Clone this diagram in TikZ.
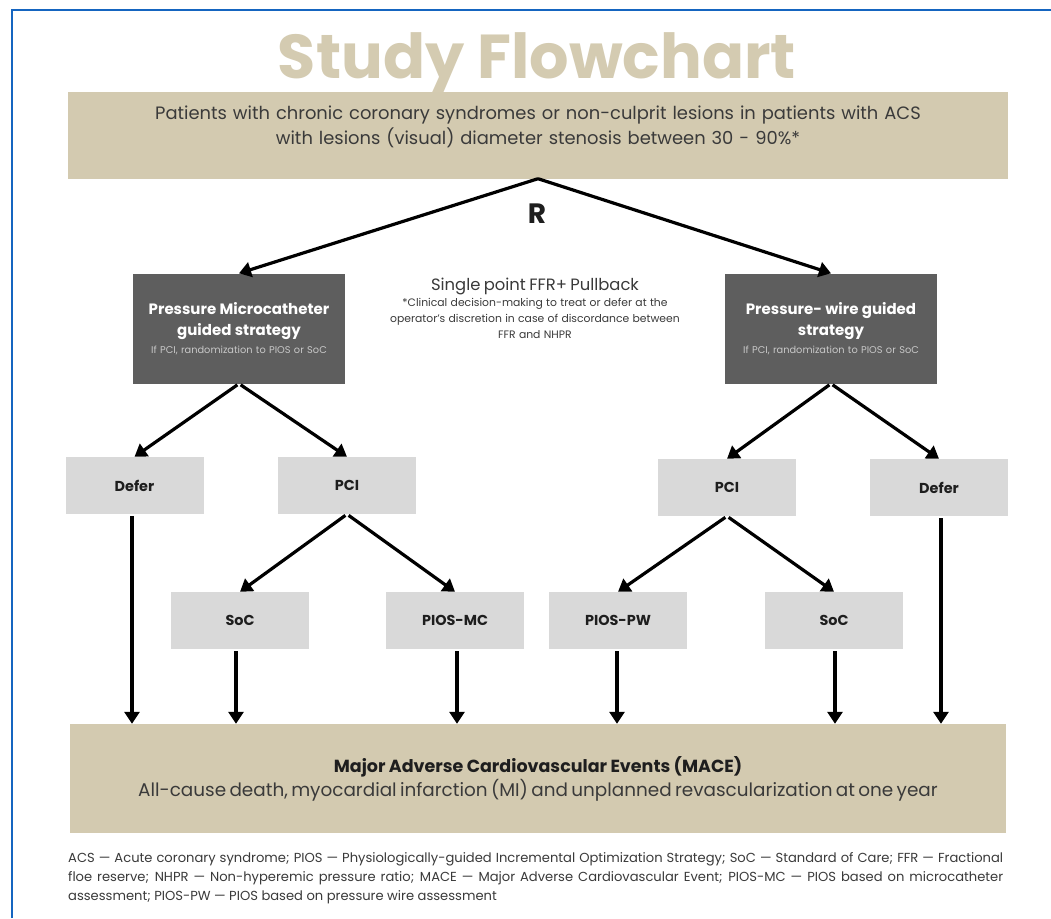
\documentclass[tikz,border=0pt]{standalone}
\usepackage{fontspec}
\setmainfont{Poppins}
\usetikzlibrary{arrows.meta}
\definecolor{sand}{HTML}{D3CAB0}
\definecolor{sandtitle}{HTML}{D4CBB1}
\definecolor{slate}{HTML}{5E5E5E}
\definecolor{fog}{HTML}{D9D9D9}
\definecolor{ink}{HTML}{1E1E1E}
\definecolor{softink}{HTML}{3A3A3A}
\definecolor{frameblue}{HTML}{1565C0}
\definecolor{paleink}{HTML}{C8C8C8}
\tikzset{
  choice/.style={fill=fog, minimum width=138pt, minimum height=57pt, inner sep=0pt,
    font=\bfseries\fontsize{14.4}{16}\selectfont, text=ink},
  strategy/.style={fill=slate, minimum width=212pt, minimum height=110pt, inner sep=0pt,
    text width=208pt, align=center, text=white},
  band/.style={fill=sand, inner sep=0pt},
  link/.style={line width=3.2pt, draw=black, -{Triangle[length=12pt,width=15pt]}},
}
\begin{document}
\begin{tikzpicture}[x=1pt,y=-1pt]
\useasboundingbox (0,0) rectangle (1051,918);
\fill[white] (0,0) rectangle (1051,918);
% page frame
\draw[frameblue, line width=2pt] (12,918) -- (12,10) -- (1051,10);

% title
\node[anchor=base, inner sep=0pt, text=sandtitle, font=\bfseries\fontsize{62}{66}\selectfont] (title) at (537,78) {Study Flowchart};

% population band
\node[band, minimum width=940pt, minimum height=87pt] (pop) at (538,135) {};
\node[text width=930pt, align=center, text=softink, inner sep=0pt,
      font=\fontsize{17.9}{25}\selectfont] (poptext) at (538,127)
  {Patients with chronic coronary syndromes or non-culprit lesions in patients with ACS\\
   with lesions (visual) diameter stenosis between 30 - 90\%*};

\node[font=\bfseries\fontsize{28}{30}\selectfont, text=ink] (rand) at (537,214) {R};

% strategies
\node[strategy] (mc) at (239,328.5)
  {{\bfseries\fontsize{15}{21}\selectfont Pressure Microcatheter\\guided strategy\par}
   \vspace{6pt}
   {\color{paleink}\fontsize{9.8}{11}\selectfont If PCI, randomization to PIOS or SoC\par}};
\node[strategy] (pw) at (831,328.5)
  {{\bfseries\fontsize{15}{21}\selectfont Pressure- wire guided\\strategy\par}
   \vspace{6pt}
   {\color{paleink}\fontsize{9.8}{11}\selectfont If PCI, randomization to PIOS or SoC\par}};

\node[text width=340pt, align=center, text=softink, inner sep=0pt] (note) at (535,308)
  {{\fontsize{16.4}{18}\selectfont Single point FFR+ Pullback\par}
   {\fontsize{10.8}{16}\selectfont *Clinical decision-making to treat or defer at the\\
   operator's discretion in case of discordance between\\FFR and NHPR\par}};

% second level
\node[choice] (deferl) at (134.5,485.5) {Defer};
\node[choice] (pcil) at (347,485.5) {PCI};
\node[choice] (pcir) at (727,487.5) {PCI};
\node[choice] (deferr) at (939,487.5) {Defer};

% third level
\node[choice] (socl) at (240,620.5) {SoC};
\node[choice] (piosmc) at (455,620.5) {PIOS-MC};
\node[choice] (piospw) at (618,620.5) {PIOS-PW};
\node[choice] (socr) at (834,620.5) {SoC};

% outcome band
\node[band, minimum width=936pt, minimum height=109pt, text width=930pt, align=center, text=ink] (mace) at (538,778.5)
  {{\bfseries\fontsize{17.5}{20}\selectfont Major Adverse Cardiovascular Events (MACE)\par}
   \vspace{2pt}
   {\color{softink}\fontsize{18.4}{22}\selectfont All-cause death, myocardial infarction (MI) and unplanned revascularization at one year\par}};

% connectors
\draw[link] (pop.south) -- (mc.north);
\draw[link] (pop.south) -- (pw.north);
\draw[link, shorten <=2pt] (mc.south) -- (deferl.north);
\draw[link, shorten <=2pt] (mc.south) -- (pcil.north);
\draw[link, shorten <=2pt] (pw.south) -- (pcir.north);
\draw[link, shorten <=2pt] (pw.south) -- (deferr.north);
\draw[link, shorten <=2pt] (pcil.south) -- (socl.north);
\draw[link, shorten <=2pt] (pcil.south) -- (piosmc.north);
\draw[link, shorten <=2pt] (pcir.south) -- (piospw.north);
\draw[link, shorten <=2pt] (pcir.south) -- (socr.north);
\draw[link, shorten <=2pt] ([xshift=-2.5pt]deferl.south) -- ([xshift=-2.5pt]deferl.south |- mace.north);
\draw[link, shorten <=2pt] ([xshift=-4pt]socl.south) -- ([xshift=-4pt]socl.south |- mace.north);
\draw[link, shorten <=2pt] ([xshift=2pt]piosmc.south) -- ([xshift=2pt]piosmc.south |- mace.north);
\draw[link, shorten <=2pt] ([xshift=-1pt]piospw.south) -- ([xshift=-1pt]piospw.south |- mace.north);
\draw[link, shorten <=2pt] ([xshift=1pt]socr.south) -- ([xshift=1pt]socr.south |- mace.north);
\draw[link, shorten <=2pt] ([xshift=2pt]deferr.south) -- ([xshift=2pt]deferr.south |- mace.north);

% abbreviations
\node[anchor=north west, inner sep=0pt, text width=935pt, align=justify, text=softink,
      font=\fontsize{13.1}{19}\selectfont] (abbr) at (68,852)
  {ACS — Acute coronary syndrome; PIOS — Physiologically-guided Incremental Optimization Strategy; SoC — Standard of Care; FFR — Fractional\linebreak
   floe reserve; NHPR — Non-hyperemic pressure ratio; MACE — Major Adverse Cardiovascular Event; PIOS-MC — PIOS based on microcatheter\linebreak
   assessment; PIOS-PW — PIOS based on pressure wire assessment};
\end{tikzpicture}
\end{document}
